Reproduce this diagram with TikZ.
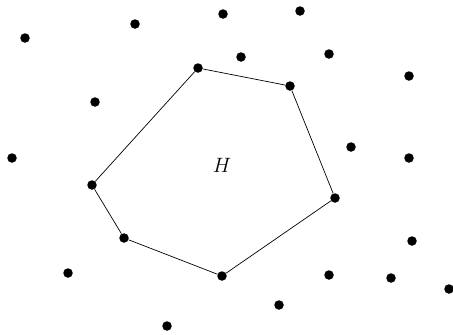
\documentclass[tikz,border=0pt]{standalone}
\begin{document}
\begin{tikzpicture}[x=1pt,y=-1pt,
  pt/.style={circle,fill=black,inner sep=0pt,minimum size=9.5pt},
  hull/.style={line width=0.7pt}]
\useasboundingbox (0,0) rectangle (453,335);
% hull vertices
\node[pt] (h1) at (198,68) {};
\node[pt] (h2) at (290,86) {};
\node[pt] (h3) at (335,198) {};
\node[pt] (h4) at (222,276) {};
\node[pt] (h5) at (124,238) {};
\node[pt] (h6) at (92,185) {};
\draw[hull] (h1) -- (h2) -- (h3) -- (h4) -- (h5) -- (h6) -- (h1);
% other points
\node[pt] (p1) at (25,38) {};
\node[pt] (p2) at (135,24) {};
\node[pt] (p3) at (223,14) {};
\node[pt] (p4) at (300,11) {};
\node[pt] (p5) at (241,57) {};
\node[pt] (p6) at (329,54) {};
\node[pt] (p7) at (409,76) {};
\node[pt] (p8) at (95,102) {};
\node[pt] (p9) at (12,158) {};
\node[pt] (p10) at (351,147) {};
\node[pt] (p11) at (409,158) {};
\node[pt] (p12) at (412,241) {};
\node[pt] (p13) at (68,273) {};
\node[pt] (p14) at (329,275) {};
\node[pt] (p15) at (391,278) {};
\node[pt] (p16) at (449,289) {};
\node[pt] (p17) at (279,305) {};
\node[pt] (p18) at (167,326) {};
\node (H) at (222,165) {\fontsize{22}{26}\selectfont $H$};
\end{tikzpicture}
\end{document}
